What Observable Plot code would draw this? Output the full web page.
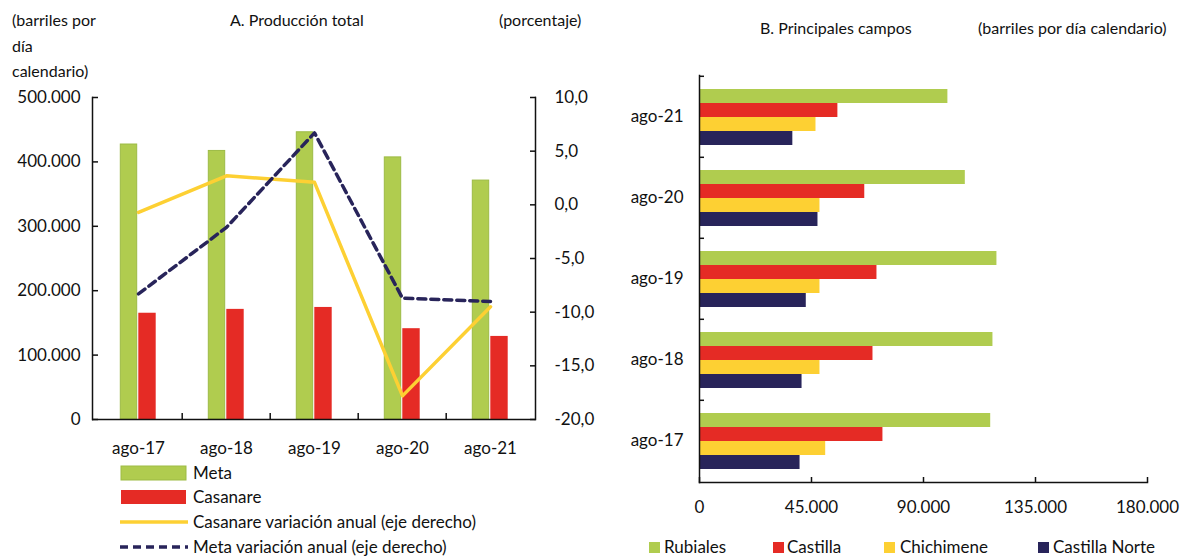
<!DOCTYPE html>
<html><head><meta charset="utf-8">
<script src="https://cdn.jsdelivr.net/npm/d3@7"></script>
<script src="https://cdn.jsdelivr.net/npm/@observablehq/plot@0.6"></script>
<style>
html,body{margin:0;padding:0;background:#fff;}
#root{position:relative;width:1186px;height:557px;overflow:hidden;font-family:Lato,sans-serif;color:#111;font-size:16px;}
.abs{position:absolute;white-space:nowrap;line-height:17px;}
.plot{position:absolute;top:0;overflow:visible;}
</style></head><body><div id="root"></div>
<script>
// ---- Data ----
const years = ["ago-17", "ago-18", "ago-19", "ago-20", "ago-21"];
const metaProd = [427000, 417000, 446000, 407000, 371000];
const casanareProd = [165000, 171000, 174000, 141000, 129000];
const casanareVar = [-0.7, 2.7, 2.1, -17.8, -9.5];
const metaVar = [-8.3, -2.1, 6.7, -8.7, -9.0];
const leftTicks = [0, 100000, 200000, 300000, 400000, 500000];
const rightTicks = [-20, -15, -10, -5, 0, 5, 10];

const fields = ["Rubiales", "Castilla", "Chichimene", "Castilla Norte"];
const rubiales = [117000, 117900, 119500, 106800, 99800];
const castilla = [73700, 69700, 71300, 66400, 55600];
const chichimene = [50700, 48400, 48400, 48400, 46800];
const castillaNorte = [40400, 41200, 42900, 47600, 37500];
const fieldTicks = [0, 45000, 90000, 135000, 180000];

const GREEN = "#b0cc4f", RED = "#e52b25", YELLOW = "#fdd033", NAVY = "#28245a";
const fmt = d => d3.format(",")(d).replace(/,/g, ".");
const fmtPct = d => d.toFixed(1).replace(".", ",");
const blank = () => "";

const root = document.getElementById("root");
function text(str, left, top, size, extra) {
  const el = document.createElement("div");
  el.className = "abs";
  el.textContent = str;
  el.style.left = left + "px";
  el.style.top = top + "px";
  if (size) el.style.fontSize = size + "px";
  if (extra) Object.assign(el.style, extra);
  root.appendChild(el);
  return el;
}
function place(svg, left) {
  svg.classList.add("plot");
  svg.style.left = left + "px";
  root.appendChild(svg);
}
const baseStyle = {fontFamily: "Lato, sans-serif", fontSize: "17px", color: "#111", background: "transparent", overflow: "visible"};

// ---- Panel A ----
const W = 600, H = 470, mL = 92, mR = 65, mT = 97, mB = 51;
const bw = (W - mL - mR) / years.length;
const barW = 18;
const barsA = Plot.plot({
  width: W, height: H, marginLeft: mL, marginRight: mR, marginTop: mT, marginBottom: mB,
  style: baseStyle,
  x: {type: "band", domain: years, padding: 0},
  y: {domain: [0, 500000]},
  marks: [
    Plot.barY(years, {x: d => d, y: (d, i) => metaProd[i], fill: GREEN, stroke: "#9dbb45", strokeWidth: 1, insetLeft: bw / 2 - barW, insetRight: bw / 2 + 1}),
    Plot.barY(years, {x: d => d, y: (d, i) => casanareProd[i], fill: RED, insetLeft: bw / 2, insetRight: bw / 2 - barW}),
    Plot.axisY({ticks: leftTicks, tickFormat: fmt, tickSize: 0, tickPadding: 12, label: null}),
    Plot.axisY({ticks: leftTicks, tickFormat: blank, tickSize: -6, strokeWidth: 1.5, label: null}),
    Plot.axisX({tickSize: 0, tickPadding: 22, label: null}),
    Plot.axisX({ticks: years.slice(1), tickSize: -6, tickFormat: blank, strokeWidth: 1.5, dx: -bw / 2, label: null}),
    Plot.frame({anchor: "left", strokeWidth: 1.5}),
    Plot.ruleY([0], {strokeWidth: 1.5})
  ]
});
place(barsA, 0);

const linesA = Plot.plot({
  width: W, height: H, marginLeft: mL, marginRight: mR, marginTop: mT, marginBottom: mB,
  style: baseStyle,
  x: {type: "point", domain: years, padding: 0.5, axis: null},
  y: {domain: [-20, 10]},
  marks: [
    Plot.axisY({anchor: "right", ticks: rightTicks, tickFormat: fmtPct, tickSize: 0, tickPadding: 19, textAnchor: "start", label: null}),
    Plot.axisY({anchor: "right", ticks: rightTicks, tickFormat: blank, tickSize: -6, strokeWidth: 1.5, label: null}),
    Plot.frame({anchor: "right", strokeWidth: 1.5}),
    Plot.lineY(casanareVar, {x: (d, i) => years[i], y: d => d, stroke: YELLOW, strokeWidth: 3.5}),
    Plot.lineY(metaVar, {x: (d, i) => years[i], y: d => d, stroke: NAVY, strokeWidth: 3.5, strokeDasharray: "8,5"})
  ]
});
place(linesA, 0);

text("(barriles por", 12, 11);
text("día", 12, 37);
text("calendario)", 12, 62);
text("A. Producción total", 230, 11);
text("(porcentaje)", 499, 11);

// legend A
const legA = [
  {label: "Meta", type: "rect", color: GREEN, y: 473},
  {label: "Casanare", type: "rect", color: RED, y: 497},
  {label: "Casanare variación anual (eje derecho)", type: "line", color: YELLOW, y: 522},
  {label: "Meta variación anual (eje derecho)", type: "dash", color: NAVY, y: 547}
];
legA.forEach(it => {
  const s = document.createElementNS("http://www.w3.org/2000/svg", "svg");
  s.setAttribute("width", 70); s.setAttribute("height", 16);
  s.style.position = "absolute"; s.style.left = "119px"; s.style.top = (it.y - 8) + "px";
  if (it.type === "rect") {
    s.innerHTML = `<rect x="2" y="1" width="65" height="14" fill="${it.color}" ${it.color === GREEN ? 'stroke="#9dbb45"' : ''}/>`;
  } else {
    s.innerHTML = `<line x1="1" x2="69" y1="8" y2="8" stroke="${it.color}" stroke-width="3.5" ${it.type === "dash" ? 'stroke-dasharray="8,5"' : ''}/>`;
  }
  root.appendChild(s);
  text(it.label, 193, it.y - 9, 17);
});

// ---- Panel B ----
const W2 = 586, H2 = 520, mL2 = 99, mR2 = 39, mT2 = 75, mB2 = 38;
const bw2 = (H2 - mT2 - mB2) / years.length;
const series = [rubiales, castilla, chichimene, castillaNorte];
const fieldData = years.flatMap((y, i) => fields.map((f, j) => ({year: y, field: f, value: series[j][i]})));
const barsB = Plot.plot({
  width: W2, height: H2, marginLeft: mL2, marginRight: mR2, marginTop: mT2, marginBottom: mB2,
  style: baseStyle,
  fy: {domain: years.slice().reverse(), padding: 0},
  y: {domain: fields, paddingInner: 0, paddingOuter: 0.77, axis: null},
  x: {domain: [0, 180000], axis: null},
  color: {domain: fields, range: [GREEN, RED, YELLOW, NAVY]},
  marks: [
    Plot.barX(fieldData, {fy: "year", y: "field", x: "value", fill: "field"}),
    Plot.axisFy({anchor: "left", tickSize: 0, tickPadding: 16, label: null}),
    Plot.axisFy({anchor: "left", tickSize: -5, tickFormat: blank, strokeWidth: 1.5, dy: -bw2 / 2, label: null})
  ]
});
place(barsB, 600);

const axesB = Plot.plot({
  width: W2, height: H2, marginLeft: mL2, marginRight: mR2, marginTop: mT2, marginBottom: mB2,
  style: baseStyle,
  x: {domain: [0, 180000]},
  y: {domain: [0, 1], axis: null},
  marks: [
    Plot.axisX({ticks: fieldTicks, tickFormat: fmt, tickSize: 0, tickPadding: 18, label: null}),
    Plot.axisX({ticks: fieldTicks, tickFormat: blank, tickSize: -5, strokeWidth: 1.5, label: null}),
    Plot.frame({anchor: "bottom", strokeWidth: 1.5}),
    Plot.frame({anchor: "left", strokeWidth: 1.5})
  ]
});
place(axesB, 600);

text("B. Principales campos", 760, 19);
text("(barriles por día calendario)", 978, 19);

const legB = [
  {label: "Rubiales", color: GREEN, x: 649, tx: 664},
  {label: "Castilla", color: RED, x: 773, tx: 787},
  {label: "Chichimene", color: YELLOW, x: 884, tx: 900},
  {label: "Castilla Norte", color: NAVY, x: 1038, tx: 1053}
];
legB.forEach(it => {
  const sq = document.createElement("div");
  Object.assign(sq.style, {position: "absolute", left: it.x + "px", top: "542px", width: "11px", height: "11px", background: it.color});
  root.appendChild(sq);
  text(it.label, it.tx, 538, 17);
});
</script></body></html>
